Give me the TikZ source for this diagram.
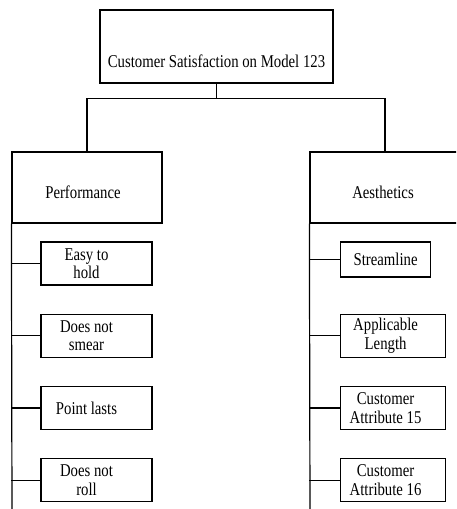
\documentclass[tikz,border=0pt]{standalone}
\usepackage{fontspec}
\setmainfont{Liberation Serif}[FakeStretch=0.82]
\usetikzlibrary{positioning}

\tikzset{
  txt/.style={font=\fontsize{18}{18.5}\selectfont,align=center},
  hdr/.style={draw,minimum width=150,minimum height=71},
  leaf/.style={draw,minimum width=111,minimum height=43},
  boxtext/.style n args={3}{label={[txt,xshift=#1,yshift=#2]center:#3}}
}

\begin{document}
\begin{tikzpicture}[x=1pt,y=-1pt,line width=1.2pt]
  \useasboundingbox (0,0) rectangle (456,509);
  \clip (0,0) rectangle (456,509);

  % top
  \node[draw,minimum width=233,minimum height=73,
    boxtext={0pt}{-15pt}{Customer Satisfaction on Model 123}] (top) at (216.5,46.5) {};

  % categories
  \node[hdr,boxtext={-4pt}{-5pt}{Performance}] (perf) at (87,187.5) {};
  \node[hdr,boxtext={-2pt}{-5pt}{Aesthetics}] (aes) at (385,187.5) {};

  \draw (top.south) -- ++(0,15) coordinate (fork);
  \draw (perf.north) |- (fork) -| (aes.north);

  \coordinate (perfend) at (12,515);
  \coordinate (aesend) at (310,515);
  \draw (perf.south west) -- (perfend);
  \draw (aes.south west) -- (aesend);

  % performance items
  \node[leaf,boxtext={-10pt}{0pt}{Easy to\\hold}] (hold) at (96.5,263.5) {};
  \node[leaf,below=28pt of hold,boxtext={-10pt}{0pt}{Does not\\smear}] (smear) {};
  \node[leaf,below=28pt of smear,boxtext={-10pt}{0pt}{Point lasts}] (point) {};
  \node[leaf,below=28pt of point,boxtext={-10pt}{0pt}{Does not\\roll}] (roll) {};

  % aesthetics items
  \node[leaf,minimum width=90,minimum height=35,anchor=west,
    boxtext={0pt}{0pt}{Streamline}] (stream) at (340,259.5) {};
  \node[leaf,minimum width=105,anchor=west,
    boxtext={-7.5pt}{0pt}{Applicable\\Length}] (length) at (stream.west |- smear) {};
  \node[leaf,minimum width=105,anchor=west,
    boxtext={-7.5pt}{0pt}{Customer\\Attribute 15}] (attr15) at (stream.west |- point) {};
  \node[leaf,minimum width=105,anchor=west,
    boxtext={-7.5pt}{0pt}{Customer\\Attribute 16}] (attr16) at (stream.west |- roll) {};

  \foreach \n in {hold,smear,point,roll}
    \draw (\n.west -| perf.west) -- (\n.west);
  \foreach \n in {stream,length,attr15,attr16}
    \draw (\n.west -| aes.west) -- (\n.west);
\end{tikzpicture}
\end{document}
